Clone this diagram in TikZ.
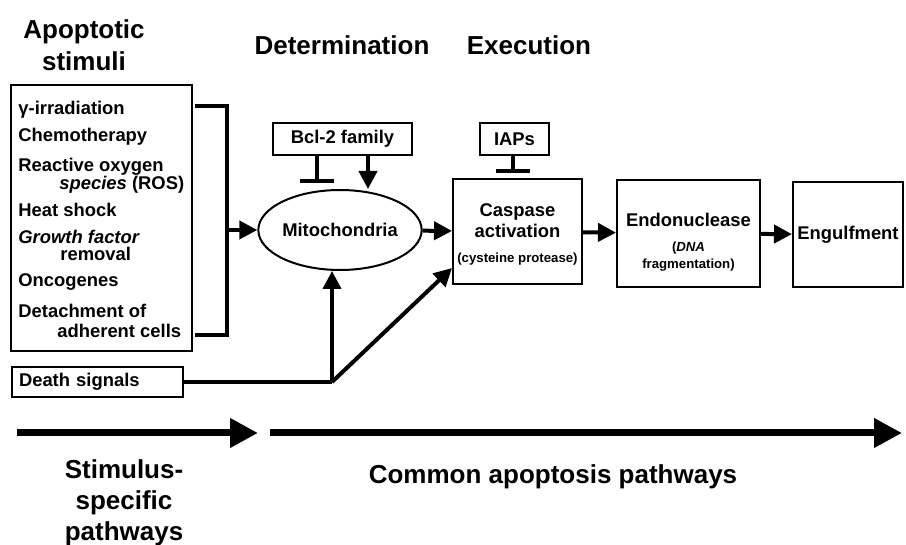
\documentclass[tikz,border=0pt]{standalone}
\usepackage{fontspec}
\setmainfont{Liberation Sans}
\usetikzlibrary{arrows.meta,calc,shapes.geometric}
\newcommand\smallfnt{\fontsize{6.6}{8}\selectfont}
\tikzset{
 box/.style={draw,line width=1pt,inner sep=0pt},
 hd/.style={font=\fontsize{13}{16.2}\selectfont\bfseries,align=center,inner sep=0pt},
 txt/.style={font=\fontsize{9.2}{10.5}\selectfont\bfseries,inner sep=0pt},
 sml/.style={font=\smallfnt\bfseries,inner sep=0pt},
 act/.style={line width=2pt,-{Triangle[length=9pt,width=9pt]}},
 inh/.style={line width=2pt,-{Bar[width=17pt]}},
 flow/.style={line width=3.5pt,-{Triangle[length=14pt,width=14pt]}},
}
\begin{document}
\begin{tikzpicture}[x=0.5pt,y=-0.5pt]
 \useasboundingbox (0,0) rectangle (906,545);
 %% headings
 \node[hd,anchor=north] (hstim) at (84,19) {Apoptotic\\stimuli};
 \node[hd,anchor=base] (hdet) at (342,55) {Determination};
 \node[hd,anchor=base] (hexe) at (529,55) {Execution};
 %% stimuli list
 \node[box,minimum width=90.5pt,minimum height=133pt] (stim) at (101.5,218) {};
 \node[txt,anchor=base west] (s1) at (18,115) {γ-irradiation};
 \node[txt,anchor=base west] (s2) at (18,142) {Chemotherapy};
 \node[txt,anchor=base west] (s3) at (18,172) {Reactive oxygen};
 \node[txt,anchor=base west] (s3b) at (59,190) {\textit{species} (ROS)};
 \node[txt,anchor=base west] (s4) at (18,217) {Heat shock};
 \node[txt,anchor=base west] (s5) at (18,244) {\textit{Growth factor}};
 \node[txt,anchor=base west] (s5b) at (60,261) {removal};
 \node[txt,anchor=base west] (s6) at (18,287) {Oncogenes};
 \node[txt,anchor=base west] (s7) at (18,318) {Detachment of};
 \node[txt,anchor=base west] (s7b) at (57,338) {adherent cells};
 \node[box,txt,anchor=west,inner xsep=3.5pt,text width=78.5pt,align=left,minimum height=15pt] (dsig) at (11,382) {Death signals};
 %% bracket
 \coordinate (btop) at (195,106);
 \coordinate (bbot) at (195,335);
 \coordinate (jn) at (227,230);
 \draw[line width=2pt] (btop) -| (jn) |- (bbot);
 %% common pathway
 \node[draw,line width=1pt,ellipse,minimum width=77.5pt,minimum height=40pt,inner sep=0pt,txt] (mito) at (340,230) {Mitochondria};
 \node[box,txt,minimum width=69.5pt,minimum height=16pt] (bcl) at (342.5,139) {Bcl-2 family};
 \node[box,txt,minimum width=34.5pt,minimum height=16pt] (iap) at (514.5,139) {IAPs};
 \node[box,minimum width=64.5pt,minimum height=52.5pt] (casp) at (517.5,231.5) {};
 \node[txt,anchor=base] (casp1) at (517.5,217) {Caspase};
 \node[txt,anchor=base] (casp2) at (517.5,238) {activation};
 \node[sml,anchor=base] (casp3) at (517.5,263) {(cysteine protease)};
 \node[box,minimum width=71.5pt,minimum height=53.5pt] (endo) at (688.5,233.5) {};
 \node[txt,anchor=base] (endo1) at (688.5,227) {Endonuclease};
 \node[sml,anchor=base] (endo2) at (688.5,252) {(\textit{DNA}};
 \node[sml,anchor=base] (endo3) at (688.5,269) {fragmentation)};
 \node[box,txt,minimum width=55pt,minimum height=52.5pt] (engf) at (848,234.5) {Engulfment};
 \draw[act] (jn) -- (mito);
 \coordinate (bi) at (317,183);
 \coordinate (ba) at (368,0);
 \coordinate (ii) at (513,173);
 \draw[inh] (bcl.south -| bi) -- (bi);
 \draw[act] (bcl.south -| ba) -- (ba |- mito.north);
 \draw[inh] (iap.south -| ii) -- (ii);
 \draw[act] (mito) -- (casp);
 \draw[act] (casp) -- (endo);
 \draw[act] (endo) -- (engf);
 %% death signals
 \coordinate (dc) at (332,382);
 \draw[line width=2pt] (dsig) -- (dc);
 \draw[act] (dc) -- (dc |- mito.south);
 \draw[act] (dc) -- ($(casp.south west)+(0,-17)$);
 %% bottom arrows
 \coordinate (f1s) at (17,433);
 \coordinate (f1e) at (258,433);
 \coordinate (f2s) at (270,433);
 \coordinate (f2e) at (902,433);
 \draw[flow] (f1s) -- (f1e);
 \draw[flow] (f2s) -- (f2e);
 \node[hd,anchor=north,font=\fontsize{13}{15.5}\selectfont\bfseries] (bstim) at (124,459) {Stimulus-\\specific\\pathways};
 \node[hd,anchor=base] (bcom) at (553,484) {Common apoptosis pathways};
\end{tikzpicture}
\end{document}
